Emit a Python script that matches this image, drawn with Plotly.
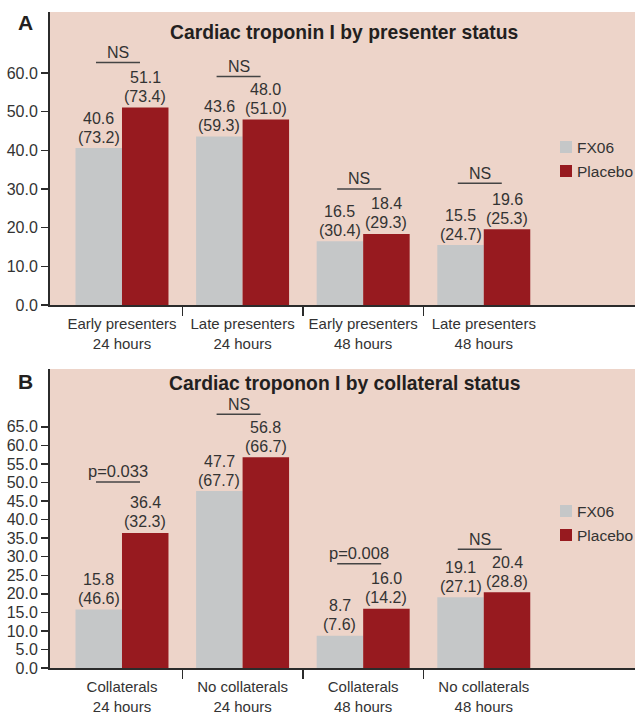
import plotly.graph_objects as go

# ---------------- data ----------------
categories_a = ["Early presenters<br>24 hours", "Late presenters<br>24 hours",
                "Early presenters<br>48 hours", "Late presenters<br>48 hours"]
fx06_a = [40.6, 43.6, 16.5, 15.5]
fx06_a_sd = [73.2, 59.3, 30.4, 24.7]
placebo_a = [51.1, 48.0, 18.4, 19.6]
placebo_a_sd = [73.4, 51.0, 29.3, 25.3]
sig_a = ["NS", "NS", "NS", "NS"]
yticks_a = [0, 10, 20, 30, 40, 50, 60]

categories_b = ["Collaterals<br>24 hours", "No collaterals<br>24 hours",
                "Collaterals<br>48 hours", "No collaterals<br>48 hours"]
fx06_b = [15.8, 47.7, 8.7, 19.1]
fx06_b_sd = [46.6, 67.7, 7.6, 27.1]
placebo_b = [36.4, 56.8, 16.0, 20.4]
placebo_b_sd = [32.3, 66.7, 14.2, 28.8]
sig_b = ["p=0.033", "NS", "p=0.008", "NS"]
yticks_b = [0, 5, 10, 15, 20, 25, 30, 35, 40, 45, 50, 55, 60, 65]

series_names = ["FX06", "Placebo"]
title_a = "Cardiac troponin I by presenter status"
title_b = "Cardiac troponon I by collateral status"

# ---------------- style ----------------
FONT = "'Liberation Sans', Arial, sans-serif"
BG = "#EDD4C9"
GRAY = "#C5C7C8"
RED = "#971A1F"
COLORS = [GRAY, RED]
TXT = "#333333"
AXIS = "#2b2b2b"
BARGAP = 0.229
HALF = (1 - BARGAP) / 4  # offset of each bar centre from the group centre
sig_gap_a = [45, 43, 45, 46]
sig_gap_b = [51, 43, 45, 43]

# figure geometry
W, H = 635, 713
ML, MT, MB = 50, 12, 45
PW, PH = W - ML, H - MT - MB


def px_x(x):  # pixel x -> paper fraction
    return (x - ML) / PW


def px_y(y):  # pixel y (from top) -> paper fraction
    return (H - MB - y) / PH


fig = go.Figure()

panels = [
    dict(xa="x", ya="y", cats=categories_a, fx=fx06_a, fxsd=fx06_a_sd,
         pl=placebo_a, plsd=placebo_a_sd, sig=sig_a, gaps=sig_gap_a, leg_top=141),
    dict(xa="x2", ya="y2", cats=categories_b, fx=fx06_b, fxsd=fx06_b_sd,
         pl=placebo_b, plsd=placebo_b_sd, sig=sig_b, gaps=sig_gap_b, leg_top=505),
]

annotations = []
shapes = []
for p in panels:
    xs = list(range(len(p["cats"])))
    for name, vals, col in ((series_names[0], p["fx"], COLORS[0]),
                            (series_names[1], p["pl"], COLORS[1])):
        fig.add_trace(go.Bar(x=xs, y=vals, name=name, marker_color=col,
                             marker_line_width=0, xaxis=p["xa"], yaxis=p["ya"],
                             showlegend=False))
    for i in xs:
        for val, sd, off in ((p["fx"][i], p["fxsd"][i], -HALF), (p["pl"][i], p["plsd"][i], HALF)):
            annotations.append(dict(x=i + off, y=val, xref=p["xa"], yref=p["ya"],
                                    text=f"{val:.1f}", showarrow=False, yanchor="middle",
                                    xanchor="center", yshift=30,
                                    font=dict(family=FONT, size=16, color=TXT)))
            annotations.append(dict(x=i + off, y=val, xref=p["xa"], yref=p["ya"],
                                    text=f"({sd:.1f})", showarrow=False, yanchor="middle",
                                    xanchor="center", yshift=11,
                                    font=dict(family=FONT, size=16, color=TXT)))
        top = max(p["fx"][i], p["pl"][i])
        gap = p["gaps"][i]
        shapes.append(dict(type="line", xref=p["xa"], yref=p["ya"],
                           xsizemode="pixel", xanchor=i, x0=-26, x1=18,
                           ysizemode="pixel", yanchor=top, y0=gap, y1=gap,
                           line=dict(color="#444444", width=1.5)))
        s = p["sig"][i]
        if s == "NS":
            f = dict(family=FONT, size=16, color=TXT)
            ys = gap + 10
        else:
            f = dict(family=FONT, size=16.5, color=TXT)
            ys = gap + 11
        annotations.append(dict(x=i, y=top, xref=p["xa"], yref=p["ya"], text=s,
                                showarrow=False, yanchor="middle", xanchor="center",
                                xshift=-4, yshift=ys, font=f))

    # legend (square swatch + label) drawn at the right of the panel
    for k, (name, col) in enumerate(zip(series_names, COLORS)):
        y0 = p["leg_top"] + k * 24
        shapes.append(dict(type="rect", xref="paper", yref="paper",
                           x0=px_x(560), x1=px_x(572), y0=px_y(y0 + 12), y1=px_y(y0),
                           fillcolor=col, line=dict(width=0)))
        annotations.append(dict(text=name, xref="paper", yref="paper", x=px_x(575),
                                y=px_y(y0 + 6), xanchor="left", yanchor="middle",
                                showarrow=False,
                                font=dict(family=FONT, size=15.5, color=TXT)))

# titles and panel letters
annotations += [
    dict(text=title_a, xref="paper", yref="paper", x=px_x(344), y=px_y(32), showarrow=False,
         xanchor="center", yanchor="middle",
         font=dict(family=FONT, size=19.3, color="#231F20", weight="bold")),
    dict(text=title_b, xref="paper", yref="paper", x=px_x(344), y=px_y(383), showarrow=False,
         xanchor="center", yanchor="middle",
         font=dict(family=FONT, size=19.3, color="#231F20", weight="bold")),
    dict(text="A", xref="paper", yref="paper", x=px_x(25), y=px_y(22), showarrow=False,
         xanchor="center", yanchor="middle",
         font=dict(family=FONT, size=21, color="#231F20", weight="bold")),
    dict(text="B", xref="paper", yref="paper", x=px_x(25), y=px_y(382), showarrow=False,
         xanchor="center", yanchor="middle",
         font=dict(family=FONT, size=21, color="#231F20", weight="bold")),
]

xcommon = dict(range=[-0.597, 4.254], tickvals=[0, 1, 2, 3], ticks="", showgrid=False,
               zeroline=False, showline=True, linecolor=AXIS, linewidth=2, tickangle=0,
               tickfont=dict(family=FONT, size=15, color=TXT), ticklabelstandoff=4,
               minor=dict(tickvals=[0.5, 1.5, 2.5], ticks="outside", ticklen=9,
                          tickwidth=1.5, tickcolor=AXIS, showgrid=False),
               fixedrange=True)
ycommon = dict(ticks="outside", ticklen=7, tickwidth=1.5, tickcolor=AXIS, showgrid=False,
               zeroline=False, showline=True, linecolor=AXIS, linewidth=2,
               tickformat=".1f", tickfont=dict(family=FONT, size=16, color=TXT),
               fixedrange=True)

fig.update_layout(
    width=W, height=H,
    margin=dict(l=ML, r=0, t=MT, b=MB, autoexpand=False),
    paper_bgcolor="white", plot_bgcolor=BG,
    barmode="group", bargap=BARGAP, bargroupgap=0,
    showlegend=False,
    xaxis=dict(domain=[0, 1], anchor="y", ticktext=categories_a, **xcommon),
    yaxis=dict(domain=[px_y(305), 1], anchor="x", range=[0, 75.8], tickvals=yticks_a, **ycommon),
    xaxis2=dict(domain=[0, 1], anchor="y2", ticktext=categories_b, **xcommon),
    yaxis2=dict(domain=[0, px_y(369)], anchor="x2", range=[0, 80.6], tickvals=yticks_b, **ycommon),
    annotations=annotations,
    shapes=shapes,
)

# remove the browser's default 8px body margin so the 635x713 figure fills the window
fig.write_html("out.html",
               config={"displayModeBar": False, "staticPlot": True},
               post_script="document.documentElement.style.overflow='hidden';"
                           "document.body.style.margin='0';"
                           "document.body.style.overflow='hidden';")
